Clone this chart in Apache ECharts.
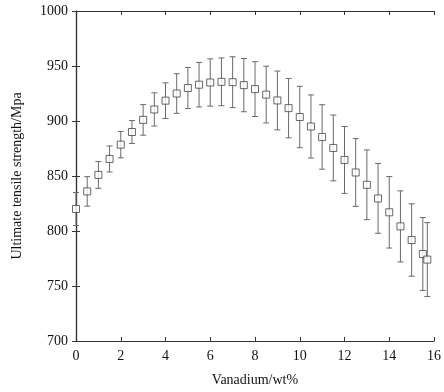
<!DOCTYPE html>
<html>
<head>
<meta charset="utf-8">
<script src="https://cdn.jsdelivr.net/npm/echarts@6/dist/echarts.min.js"></script>
<style>html,body{margin:0;padding:0;background:#fff;}#c{width:444px;height:392px;}</style>
</head>
<body>
<div id="c"></div>
<script>
const vanadium = [0, 0.5, 1, 1.5, 2, 2.5, 3, 3.5, 4, 4.5, 5, 5.5, 6, 6.5, 7, 7.5, 8, 8.5, 9, 9.5, 10, 10.5, 11, 11.5, 12, 12.5, 13, 13.5, 14, 14.5, 15, 15.5, 15.7];
const strength = [820, 836, 851, 865.5, 878.5, 890, 901, 910.5, 918.5, 925, 930, 933, 935, 935.6, 935.3, 932.6, 929, 924, 918.7, 911.7, 903.6, 895, 885.5, 875.5, 864.6, 853.2, 842, 829.6, 817, 804.2, 791.8, 779.1, 774];
const errorBar = [15, 13.4, 12.2, 11.8, 12, 10.4, 13.9, 15.1, 16.2, 18, 18.7, 20.2, 21.5, 21.7, 23.1, 24.2, 24.9, 25.8, 26.7, 27, 27.9, 28.7, 29.3, 29.9, 30.4, 30.8, 31.7, 31.7, 32.5, 32.3, 32.9, 33.1, 33.6];
const xTicks = [0, 2, 4, 6, 8, 10, 12, 14, 16];
const yTicks = [700, 750, 800, 850, 900, 950, 1000];

const FONT = '"Liberation Serif", "DejaVu Serif", serif';
const AX = '#333';

const points = vanadium.map((x, i) => [x, strength[i]]);
const bars = vanadium.map((x, i) => [x, strength[i] - errorBar[i], strength[i] + errorBar[i]]);

const chart = echarts.init(document.getElementById('c'), null, {renderer: 'canvas'});
const axisCommon = {
  axisLine: {show: true, lineStyle: {color: AX, width: 1.2}},
  axisTick: {show: true, inside: true, length: 4, lineStyle: {color: AX, width: 1}},
  splitLine: {show: false},
  axisLabel: {color: '#111', fontFamily: FONT, fontSize: 14, formatter: v => String(v)}
};
chart.setOption({
  animation: false,
  backgroundColor: '#fff',
  grid: {left: 76, right: 10, top: 11, bottom: 50, containLabel: false},
  xAxis: [
    Object.assign({}, axisCommon, {
      type: 'value', min: xTicks[0], max: xTicks[xTicks.length - 1], interval: 2,
      name: 'Vanadium/wt%', nameLocation: 'middle', nameGap: 32,
      nameTextStyle: {color: '#111', fontFamily: FONT, fontSize: 14},
      axisLabel: Object.assign({}, axisCommon.axisLabel, {margin: 8})
    }),
    Object.assign({}, axisCommon, {
      type: 'value', position: 'top', min: xTicks[0], max: xTicks[xTicks.length - 1], interval: 2,
      axisLabel: {show: false}
    })
  ],
  yAxis: [
    Object.assign({}, axisCommon, {
      type: 'value', min: yTicks[0], max: yTicks[yTicks.length - 1], interval: 50,
      name: 'Ultimate tensile strength/Mpa', nameLocation: 'middle', nameGap: 52,
      nameTextStyle: {color: '#111', fontFamily: FONT, fontSize: 14},
      axisLabel: Object.assign({}, axisCommon.axisLabel, {margin: 8})
    }),
    Object.assign({}, axisCommon, {
      type: 'value', position: 'right', min: yTicks[0], max: yTicks[yTicks.length - 1], interval: 50,
      axisLabel: {show: false}
    })
  ],
  series: [
    {
      type: 'custom',
      data: bars,
      clip: false,
      z: 2,
      renderItem: function (params, api) {
        const x = api.value(0);
        const lo = api.coord([x, api.value(1)]);
        const hi = api.coord([x, api.value(2)]);
        const cap = 3;
        const style = {stroke: '#6a6a6a', lineWidth: 1, fill: null};
        return {
          type: 'group',
          children: [
            {type: 'line', shape: {x1: lo[0], y1: lo[1], x2: hi[0], y2: hi[1]}, style: style},
            {type: 'line', shape: {x1: lo[0] - cap, y1: lo[1], x2: lo[0] + cap, y2: lo[1]}, style: style},
            {type: 'line', shape: {x1: hi[0] - cap, y1: hi[1], x2: hi[0] + cap, y2: hi[1]}, style: style}
          ]
        };
      }
    },
    {
      type: 'scatter',
      data: points,
      symbol: 'rect',
      symbolSize: 7,
      clip: false,
      z: 3,
      itemStyle: {color: '#fff', borderColor: '#444', borderWidth: 1}
    }
  ]
});
</script>
</body>
</html>
